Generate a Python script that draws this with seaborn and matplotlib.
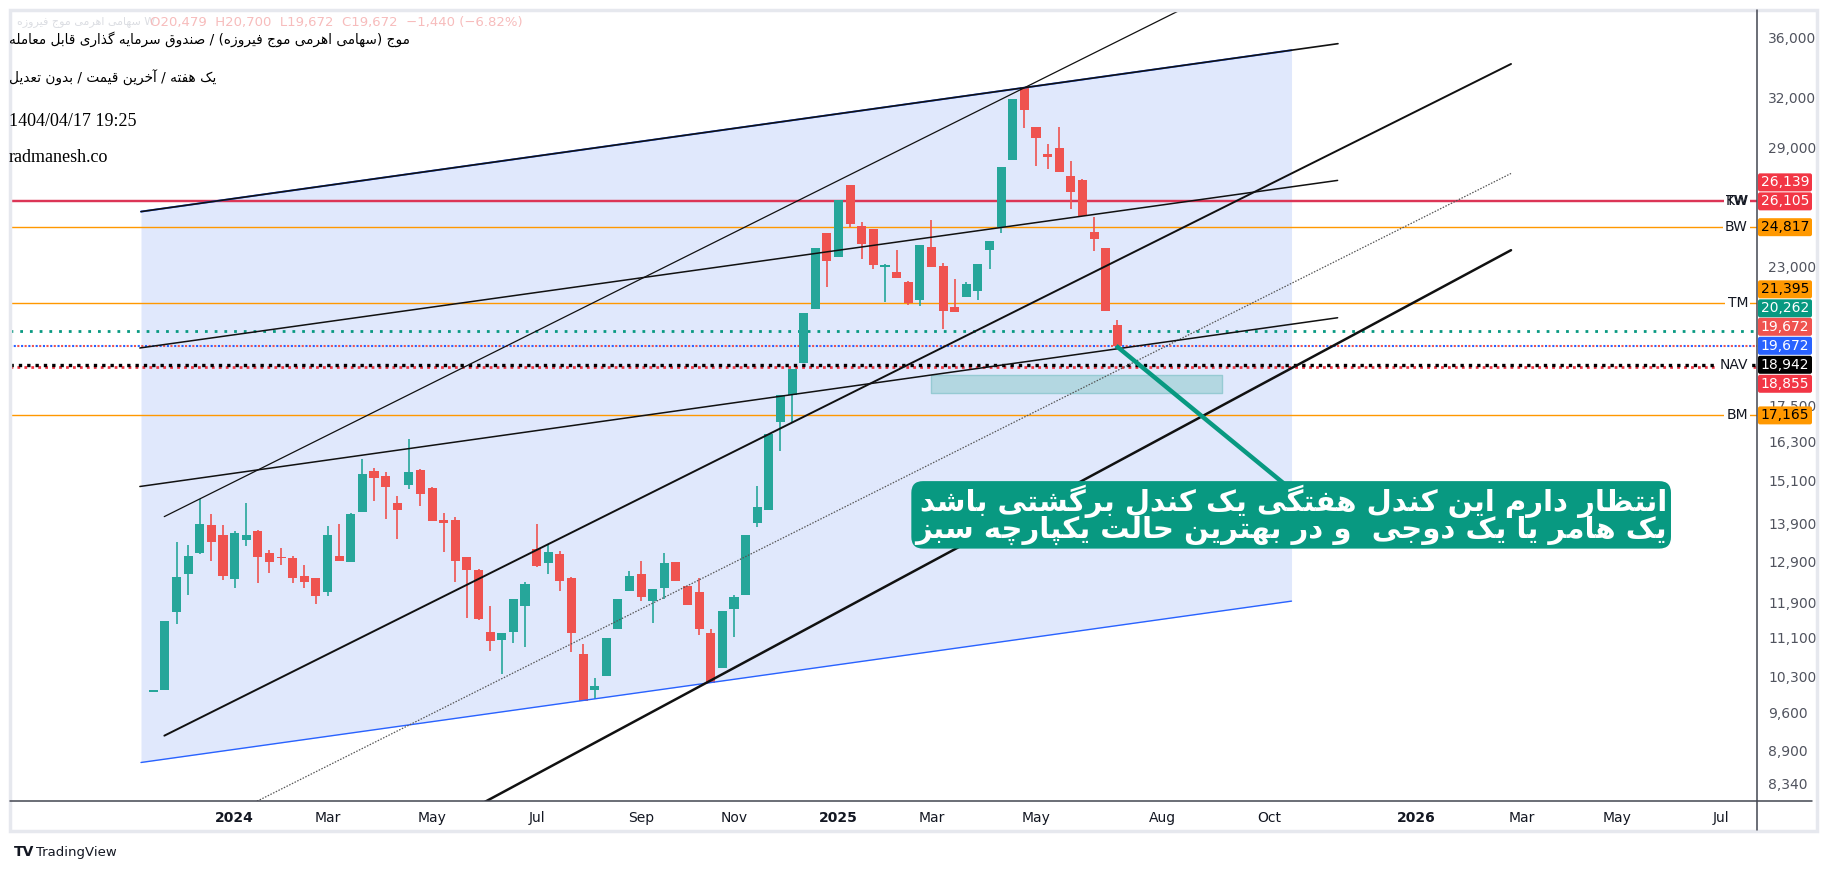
import re
import numpy as np
import pandas as pd
import matplotlib
matplotlib.use("Agg")
import matplotlib.pyplot as plt
import seaborn as sns
from matplotlib.transforms import IdentityTransform
from matplotlib.patches import FancyBboxPatch, Rectangle
from matplotlib.lines import Line2D

# ---------------------------------------------------------------- data
opens = [9990, 10015, 11668, 12570, 13122, 13846, 13586, 12468, 13453, 13684,
         13114, 12990, 12988, 12536, 12485, 12134, 13038, 12868, 14210, 15389,
         15256, 14464, 14967, 15416, 14902, 13991, 13991, 13013, 12688, 11236,
         11066, 11220, 11806, 13218, 12843, 13089, 12485, 10762, 10015, 10294,
         11307, 12158, 12587, 11922, 12230, 12868, 12287, 12152, 11214, 10475,
         11737, 12063, 13890, 14275, 16960, 17871, 19038, 21161, 24542, 23422,
         26960, 24898, 24749, 22975, 22738, 22304, 21539, 23879, 23016, 21218,
         21625, 21914, 23753, 24847, 28329, 32641, 30187, 28647, 28985, 27418,
         27204, 24603, 23818, 20479]
highs = [10000, 11480, 13400, 13322, 14577, 14147, 13846, 13692, 14464, 13711,
         13192, 13244, 13038, 12793, 12485, 13811, 13881, 14175, 15766, 15495,
         15362, 14664, 16395, 15469, 14931, 14175, 14066, 13013, 12713, 11822,
         11207, 11985, 12374, 13881, 13348, 13157, 12502, 10974, 10271, 11104,
         11985, 12662, 12893, 12228, 13114, 12868, 12287, 12477, 11294, 11708,
         12078, 13567, 14955, 16557, 17871, 18804, 20972, 23832, 24542, 26180,
         26960, 25091, 24749, 23083, 23739, 22348, 23972, 25175, 23120, 22437,
         22304, 23097, 24156, 27927, 31902, 32641, 30187, 29206, 30187, 28226,
         27273, 25316, 23818, 20700]
lows = [9990, 10015, 11397, 12063, 13071, 12893, 12443, 12230, 13303, 12350,
        12595, 12793, 12350, 12230, 11853, 12040, 12918, 12868, 14210, 14501,
        13999, 13478, 14873, 14381, 13944, 13145, 12374, 11532, 11487, 10810,
        10334, 10981, 10896, 12743, 12570, 12158, 10790, 9815, 9848, 10294,
        11307, 12158, 11922, 11420, 11978, 12398, 11829, 11163, 10153, 10475,
        11130, 12063, 13796, 14275, 15993, 16916, 19038, 21161, 22093, 23422,
        24847, 23300, 22851, 21453, 22487, 21327, 21285, 22975, 20348, 21000,
        21625, 21539, 22851, 24524, 28329, 30162, 27975, 27812, 27650, 25718,
        25350, 23705, 21077, 19672]
closes = [10000, 11480, 12513, 13038, 13881, 13382, 12520, 13631, 13569, 12995,
          12868, 12975, 12494, 12374, 12040, 13567, 12918, 14155, 15309, 15186,
          14910, 14275, 15362, 14706, 13944, 13890, 12918, 12670, 11526, 11043,
          11207, 11985, 12326, 12768, 13140, 12398, 11198, 9815, 10107, 11104,
          11985, 12536, 12016, 12228, 12843, 12398, 11829, 11307, 10153, 11708,
          12031, 13567, 14352, 16557, 17871, 18804, 20972, 23832, 23239, 26180,
          24993, 24006, 23030, 23052, 22487, 21399, 23972, 22975, 21040, 21000,
          22216, 23097, 24156, 27927, 31902, 31241, 29557, 28462, 27650, 26601,
          25350, 24233, 21077, 19672]
first_week = "2023-11-18"   # weekly bars (Saturday)

# x-axis labels (week index from the first bar)
xtick_labels = ["2024", "Mar", "May", "Jul", "Sep", "Nov", "2025", "Mar", "May",
                "Aug", "Oct", "2026", "Mar", "May", "Jul"]
xtick_weeks = [7, 15, 24, 33, 42, 50, 59, 67, 76, 86.9, 96.1, 108.7, 117.8, 126.0, 135.0]
ytick_values = [36000, 32000, 29000, 23000, 17500, 16300, 15100, 13900, 12900,
                11900, 11100, 10300, 9600, 8900, 8340]

# horizontal levels
level_values = [26139, 26105, 24817, 21395, 17165]
level_names = ["TW", "KW", "BW", "TM", "BM"]
level_colors = ["#dc3556", "#dc3556", "#ff9800", "#ff9800", "#ff9800"]
nav_value = 18942
nav_red_value = 18855
teal_dotted_value = 20262
blue_dotted_value = 19672

# price-scale labels
price_labels = [26139, 26105, 24817, 21395, 20262, 19672, 19672, 18942, 18855, 17165]
price_label_bg = ["#f23645", "#f23645", "#ff9800", "#ff9800", "#089981", "#ef5350",
                  "#2962ff", "#000000", "#f23645", "#ff9800"]
price_label_fg = ["white", "white", "black", "black", "white", "white", "white",
                  "white", "white", "black"]
price_label_anchor = [False, True, False, False, False, False, True, False, False, False]

# channel (week, price)
channel_weeks = [-1.06, 98.0]
channel_top = [25586, 35099]
channel_bottom = [8697, 11930]
channel_top_ext = (-1.06, 25586, 102.0, 35552)
# trend lines: (week0, price0, week1, price1)
trend_thin_upper = (0.94, 14077, 90.0, 38660)
trend_mid = (0.95, 9166, 116.9, 34166)
trend_low = (20.0, 7252, 116.9, 23724)
trend_dotted = (5.0, 7709, 116.9, 27572)
trend_flat_upper = (-1.16, 19588, 101.97, 27199)
trend_flat_lower = (-1.16, 14933, 101.97, 20783)
zone_weeks = [67, 92]
zone_prices = [17917, 18583]
callout_from = (82.9, 19672)
callout_to = (97.9, 14865)
callout_center = (97.97, 14128)

title_lines = ["موج (سهامی اهرمی موج فیروزه) / صندوق سرمایه گذاری قابل معامله",
               "یک هفته / آخرین قیمت / بدون تعدیل"]
date_text = "1404/04/17 19:25"
site_text = "radmanesh.co"
note_lines = ["انتظار دارم این کندل هفتگی یک کندل برگشتی باشد",
              "یک هامر یا یک دوجی  و در بهترین حالت یکپارچه سبز"]
header_name = "سهامی اهرمی موج فیروزه"
header_ohlc = "O20,479  H20,700  L19,672  C19,672  −1,440 (−6.82%)"

# ---------------------------------------------------------------- persian shaping
AR_FORMS = {
    '\u0627': ('\ufe8d', '\ufe8e', None, None), '\u0622': ('\ufe81', '\ufe82', None, None),
    '\u0628': ('\ufe8f', '\ufe90', '\ufe91', '\ufe92'), '\u067e': ('\ufb56', '\ufb57', '\ufb58', '\ufb59'),
    '\u062a': ('\ufe95', '\ufe96', '\ufe97', '\ufe98'), '\u062b': ('\ufe99', '\ufe9a', '\ufe9b', '\ufe9c'),
    '\u062c': ('\ufe9d', '\ufe9e', '\ufe9f', '\ufea0'), '\u0686': ('\ufb7a', '\ufb7b', '\ufb7c', '\ufb7d'),
    '\u062d': ('\ufea1', '\ufea2', '\ufea3', '\ufea4'), '\u062e': ('\ufea5', '\ufea6', '\ufea7', '\ufea8'),
    '\u062f': ('\ufea9', '\ufeaa', None, None), '\u0630': ('\ufeab', '\ufeac', None, None),
    '\u0631': ('\ufead', '\ufeae', None, None), '\u0632': ('\ufeaf', '\ufeb0', None, None),
    '\u0698': ('\ufb8a', '\ufb8b', None, None),
    '\u0633': ('\ufeb1', '\ufeb2', '\ufeb3', '\ufeb4'), '\u0634': ('\ufeb5', '\ufeb6', '\ufeb7', '\ufeb8'),
    '\u0635': ('\ufeb9', '\ufeba', '\ufebb', '\ufebc'), '\u0636': ('\ufebd', '\ufebe', '\ufebf', '\ufec0'),
    '\u0637': ('\ufec1', '\ufec2', '\ufec3', '\ufec4'), '\u0638': ('\ufec5', '\ufec6', '\ufec7', '\ufec8'),
    '\u0639': ('\ufec9', '\ufeca', '\ufecb', '\ufecc'), '\u063a': ('\ufecd', '\ufece', '\ufecf', '\ufed0'),
    '\u0641': ('\ufed1', '\ufed2', '\ufed3', '\ufed4'), '\u0642': ('\ufed5', '\ufed6', '\ufed7', '\ufed8'),
    '\u06a9': ('\ufb8e', '\ufb8f', '\ufb90', '\ufb91'), '\u06af': ('\ufb92', '\ufb93', '\ufb94', '\ufb95'),
    '\u0644': ('\ufedd', '\ufede', '\ufedf', '\ufee0'), '\u0645': ('\ufee1', '\ufee2', '\ufee3', '\ufee4'),
    '\u0646': ('\ufee5', '\ufee6', '\ufee7', '\ufee8'), '\u0647': ('\ufee9', '\ufeea', '\ufeeb', '\ufeec'),
    '\u0648': ('\ufeed', '\ufeee', None, None),
    '\u06cc': ('\ufbfc', '\ufbfd', '\ufbfe', '\ufbff'), '\u064a': ('\ufef1', '\ufef2', '\ufef3', '\ufef4'),
}


def _dual(c):
    return c in AR_FORMS and AR_FORMS[c][2] is not None


def shape(s):
    out, i, n = [], 0, len(s)
    while i < n:
        c = s[i]
        if c not in AR_FORMS:
            if c != '\u200c':
                out.append(c)
            i += 1
            continue
        jp = i > 0 and _dual(s[i - 1])
        if c == '\u0644' and i + 1 < n and s[i + 1] in ('\u0627', '\u0622'):
            lig = {'\u0627': ('\ufefb', '\ufefc'), '\u0622': ('\ufef5', '\ufef6')}[s[i + 1]]
            out.append(lig[1] if jp else lig[0])
            i += 2
            continue
        jn = _dual(c) and i + 1 < n and s[i + 1] in AR_FORMS
        iso, fin, ini, med = AR_FORMS[c]
        out.append(med if (jp and jn) else fin if jp else ini if jn else iso)
        i += 1
    return ''.join(out)


def rtl(s):
    t = shape(s)[::-1].translate(str.maketrans('()', ')('))
    return re.sub(r'[0-9A-Za-z][0-9A-Za-z.,:%/]*[0-9A-Za-z]|[0-9A-Za-z]',
                  lambda m: m.group(0)[::-1], t)


# ---------------------------------------------------------------- figure
W, H = 1827, 871
sns.set_theme(style="white")
plt.rcParams["font.family"] = ["DejaVu Sans"]
fig = plt.figure(figsize=(W / 100, H / 100), dpi=100)
fig.patch.set_facecolor("white")

L, R, T, B = 10, 1757, 10, 801
ax = fig.add_axes([L / W, 1 - B / H, (R - L) / W, (B - T) / H])
ax.set_facecolor("white")
ax.set_yscale("log")
ax.set_xlim(-12.34, 138.08)
ax.set_ylim(8065, 37976)

df = pd.DataFrame({"o": opens, "h": highs, "l": lows, "c": closes})
df["x"] = np.arange(len(df))
df["date"] = pd.Timestamp(first_week) + pd.to_timedelta(df["x"] * 7, unit="D")
up = df["c"] >= df["o"]
col = np.where(up, "#26a69a", "#ef5350")

# channel fill
ax.fill_between(channel_weeks, channel_bottom, channel_top, color="#e0e8fc", lw=0, zorder=0.5)
# zone rectangle
ax.fill_between(zone_weeks, [zone_prices[0]] * 2, [zone_prices[1]] * 2,
                facecolor="#b3d7e1", edgecolor="#96cad3", lw=1, zorder=0.8)

# horizontal levels
for v, c in zip(level_values, level_colors):
    ax.axhline(v, color=c, lw=1.6 if c != "#ff9800" else 1.0, zorder=1.5)
ax.axhline(teal_dotted_value, color="#089981", lw=2, ls=(0, (1, 2.5)), zorder=1.5)
ax.axhline(blue_dotted_value, color="#ef5350", lw=1.5, ls=(0, (1, 2.5)), zorder=1.5)
ax.axhline(blue_dotted_value, color="#2962ff", lw=1.5, ls=(1.7, (1, 2.5)), zorder=1.6)
ax.axhline(nav_red_value, color="#f23645", lw=2, ls=(0, (1, 1.5)), zorder=1.5)
ax.axhline(nav_value, color="#000000", lw=2.4, ls=(0, (1, 1.5)), zorder=1.6)

# candles
bottom = np.minimum(df["o"], df["c"])
top = np.maximum(np.maximum(df["o"], df["c"]), bottom * 1.003)
ax.vlines(df["x"], df["l"], df["h"], color=col, lw=1.2, zorder=2)
ax.bar(df["x"], top - bottom, bottom=bottom, width=0.78, color=col, lw=0, zorder=2.1)


# trend lines drawn with seaborn
def seg(p, **kw):
    sns.lineplot(x=[p[0], p[2]], y=[p[1], p[3]], ax=ax, legend=False, **kw)


sns.lineplot(x=channel_weeks, y=channel_top, ax=ax, color="#2962ff", lw=1.4, zorder=3)
sns.lineplot(x=channel_weeks, y=channel_bottom, ax=ax, color="#2962ff", lw=1.0, zorder=3)
seg(channel_top_ext, color="#111111", lw=1.2, zorder=3.1)
seg(trend_thin_upper, color="#111111", lw=0.9, zorder=3)
seg(trend_mid, color="#111111", lw=1.4, zorder=3)
seg(trend_low, color="#111111", lw=1.8, zorder=3)
seg(trend_dotted, color="#555555", lw=0.9, ls=(0, (1.2, 1.2)), zorder=3)
seg(trend_flat_upper, color="#111111", lw=1.1, zorder=3)
seg(trend_flat_lower, color="#111111", lw=1.1, zorder=3)

# callout
ax.plot([callout_from[0], callout_to[0]], [callout_from[1], callout_to[1]],
        color="#089981", lw=3.2, solid_capstyle="butt", zorder=8)
ax.text(callout_center[0], callout_center[1],
        "\n".join(rtl(s) for s in note_lines), ha="center", va="center",
        multialignment="right", color="white", fontsize=21, fontweight="bold",
        linespacing=0.86, zorder=9,
        bbox=dict(boxstyle="round,pad=0.14,rounding_size=0.4", fc="#089981", ec="none"))

# axes cosmetics
ax.set_xticks(xtick_weeks)
ax.set_xticklabels(xtick_labels)
for lab, txt in zip(ax.get_xticklabels(), xtick_labels):
    lab.set_fontweight("bold" if txt.isdigit() else "normal")
ax.tick_params(axis="x", length=0, pad=7, labelsize=10, labelcolor="#131722")
ax.yaxis.tick_right()
ax.yaxis.set_major_locator(matplotlib.ticker.FixedLocator(ytick_values))
ax.yaxis.set_major_formatter(matplotlib.ticker.FixedFormatter([f"{v:,}" for v in ytick_values]))
ax.yaxis.set_minor_locator(matplotlib.ticker.NullLocator())
ax.tick_params(axis="y", length=0, pad=8, labelsize=10, labelcolor="#50535e")
for s in ["left", "top", "right", "bottom"]:
    ax.spines[s].set_visible(False)
ax.grid(False)

ident = IdentityTransform()
# panel frame and axis lines
fig.add_artist(Rectangle((L, H - 831), 1807, 821, transform=ident, fill=False,
                         ec="#e6e8ee", lw=2.5))
fig.add_artist(Line2D([L, 1812], [H - B, H - B], transform=ident, color="#434651", lw=1.1))
fig.add_artist(Line2D([R, R], [H - T, H - 830], transform=ident, color="#434651", lw=1.1))


def ypix(v):
    return ax.transData.transform((0, v))[1]


# level names (TW and KW overlap as in the source)
for k, (v, name) in enumerate(zip(level_values, level_names)):
    bb = None if name == "KW" else dict(boxstyle="square,pad=0.15", fc="white", ec="none")
    fig.text(1748, ypix(v), name, transform=ident, ha="right", va="center", fontsize=10,
             color="#131722", zorder=5 + 0.1 * k, bbox=bb)
fig.text(1748, ypix(nav_value), "NAV", transform=ident, ha="right", va="center", fontsize=10,
         color="#131722", zorder=5, bbox=dict(boxstyle="square,pad=0.15", fc="white", ec="none"))

# price labels with stacking
hbox = 19.0
nat = [ypix(v) for v in price_labels]
pos = list(nat)
for _ in range(20):
    clusters, cur = [], [0]
    for i in range(1, len(pos)):
        if pos[cur[-1]] - pos[i] < hbox - 0.01:
            cur.append(i)
        else:
            clusters.append(cur)
            cur = [i]
    clusters.append(cur)
    changed = False
    for cl in clusters:
        if len(cl) == 1:
            continue
        anc = [k for k in cl if price_label_anchor[k]]
        if anc:
            a = anc[0]
            base, ka = nat[a], cl.index(a)
        else:
            base, ka = np.mean([pos[k] for k in cl]), (len(cl) - 1) / 2
        for j, k in enumerate(cl):
            newp = base + (ka - j) * hbox
            if abs(newp - pos[k]) > 0.01:
                changed = True
            pos[k] = newp
    if not changed:
        break

for v, y, bg, fg in zip(price_labels, pos, price_label_bg, price_label_fg):
    fig.add_artist(FancyBboxPatch((R + 1, y - hbox / 2 + 0.5), 54, hbox - 1,
                                  boxstyle="round,pad=0,rounding_size=2",
                                  transform=ident, fc=bg, ec="none", zorder=4))
    fig.text(R + 28, y, f"{v:,}", transform=ident, ha="center", va="center",
             fontsize=10, color=fg, zorder=5)

# header / title block
fig.text(17, H - 22, rtl(header_name) + " W", transform=ident, ha="left", va="center",
         fontsize=8, color="#dcdee3", zorder=5)
fig.text(150, H - 22, header_ohlc, transform=ident, ha="left", va="center",
         fontsize=9.5, color="#f7bcbc", zorder=5)
fig.text(9, H - 39, rtl(title_lines[0]), transform=ident, ha="left", va="center",
         fontsize=9.8, color="#000000", zorder=6)
fig.text(9, H - 78, rtl(title_lines[1]), transform=ident, ha="left", va="center",
         fontsize=9.8, color="#000000", zorder=6)
fig.text(9, H - 121, date_text, transform=ident, ha="left", va="center",
         fontsize=13, family="Liberation Serif", color="#000000", zorder=6)
fig.text(9, H - 157, site_text, transform=ident, ha="left", va="center",
         fontsize=13, family="Liberation Serif", color="#000000", zorder=6)

# TradingView mark
fig.text(14, H - 852, "TV", transform=ident, ha="left", va="center", fontsize=10,
         fontweight="bold", color="#131722")
fig.text(36, H - 852, "TradingView", transform=ident, ha="left", va="center",
         fontsize=9.5, color="#131722")

fig.savefig("out.png", dpi=100, facecolor="white")
